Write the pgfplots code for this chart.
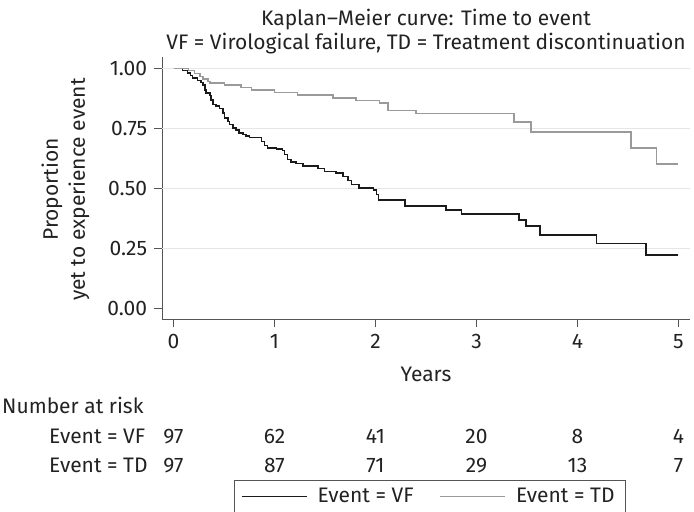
\documentclass[border=0pt]{standalone}
\usepackage{fontspec}
\setmainfont{Fira Sans}
\usepackage{pgfplots}
\pgfplotsset{compat=1.18}
\definecolor{txt}{HTML}{222222}
\definecolor{vfc}{HTML}{1A1A1A}
\definecolor{tdc}{HTML}{9A9A9A}
\definecolor{gridc}{HTML}{E6E6E6}
\definecolor{axc}{HTML}{555555}
\newcommand{\fs}{\fontsize{21bp}{25bp}\selectfont}
\begin{document}
\fs
\begin{tikzpicture}
\begin{axis}[
  at={(0,0)}, anchor=south west,
  scale only axis, width=527.7bp, height=262bp,
  xmin=-0.111, xmax=5.114, ymin=-0.046, ymax=1.046,
  axis lines=left, axis line style={-, draw=axc, line width=1bp},
  xtick={0,1,2,3,4,5}, ytick={0,0.25,0.5,0.75,1},
  yticklabel style={/pgf/number format/.cd, fixed, fixed zerofill, precision=2},
  /pgf/number format/assume math mode=true,
  extra y ticks={0.25,0.5,0.75,1}, extra y tick labels={},
  extra y tick style={ymajorgrids=true, major tick length=0pt},
  grid style={gridc, line width=1bp},
  tick style={axc, line width=1bp}, major tick length=8bp, tick align=outside,
  ticklabel style={font=\fs, text=txt},
  legend columns=2,
  legend style={at={(0.507,-0.676)}, anchor=center, draw=axc, line width=0.8bp, font=\fs, text=txt,
    inner xsep=7bp, inner ysep=1bp, nodes={inner ysep=6bp, inner xsep=4bp},
    /tikz/every even column/.append style={column sep=22bp}},
  legend cell align=left,
  legend image code/.code={\draw[#1, line width=1.5bp] (0bp,0bp) -- (65bp,0bp); \path (0bp,0bp) (71bp,0bp);},
]
\addplot[const plot, vfc, line width=1.5bp] coordinates {
(0,1)(0.09,0.99)(0.14,0.98)(0.17,0.97)(0.19,0.96)(0.24,0.95)(0.27,0.94)(0.29,0.93)(0.31,0.91)(0.32,0.897)(0.36,0.887)(0.37,0.867)(0.39,0.849)(0.42,0.842)(0.455,0.832)(0.49,0.814)(0.505,0.793)(0.54,0.779)(0.555,0.765)(0.59,0.752)(0.62,0.742)(0.65,0.731)(0.69,0.724)(0.72,0.718)(0.75,0.712)(0.87,0.696)(0.90,0.678)(0.93,0.668)(1.02,0.664)(1.08,0.658)(1.10,0.640)(1.13,0.620)(1.165,0.610)(1.215,0.603)(1.28,0.592)(1.43,0.582)(1.495,0.571)(1.61,0.564)(1.68,0.550)(1.73,0.533)(1.76,0.515)(1.835,0.502)(1.98,0.492)(2.01,0.474)(2.03,0.451)(2.29,0.426)(2.70,0.410)(2.85,0.392)(3.42,0.367)(3.49,0.342)(3.63,0.306)(4.19,0.270)(4.68,0.222)(5.0,0.222)};
\addlegendentry{Event = VF}
\addplot[const plot, tdc, line width=1.5bp] coordinates {
(0,1)(0.15,0.99)(0.21,0.979)(0.26,0.965)(0.29,0.955)(0.34,0.945)(0.36,0.938)(0.505,0.930)(0.67,0.920)(0.77,0.910)(1.0,0.900)(1.23,0.889)(1.578,0.877)(1.809,0.865)(2.04,0.856)(2.122,0.825)(2.403,0.811)(3.37,0.777)(3.54,0.735)(4.53,0.667)(4.78,0.602)(4.995,0.602)};
\addlegendentry{Event = TD}
\end{axis}
% title
\node[anchor=base, text=txt] at (263.7bp, 293.3bp) {Kaplan--Meier curve: Time to event};
\node[anchor=base, text=txt] at (263.7bp, 269.3bp) {VF = Virological failure, TD = Treatment discontinuation};
% y label
\node[anchor=base, rotate=90, text=txt] at (-104.3bp, 129.8bp) {Proportion};
\node[anchor=base, rotate=90, text=txt] at (-77.3bp, 129.8bp) {yet to experience event};
% x label
\node[anchor=base, text=txt] at (263.7bp, -61.7bp) {Years};
% risk table
\node[anchor=base west, text=txt, inner sep=0pt] at (-160.3bp, -93.7bp) {Number at risk};
\node[anchor=base west, text=txt, inner sep=0pt] at (-113.3bp, -123.7bp) {Event = VF};
\node[anchor=base west, text=txt, inner sep=0pt] at (-113.3bp, -152.7bp) {Event = TD};
\foreach \v [count=\i from 0] in {97,62,41,20,8,4}
  \node[anchor=base, text=txt, inner sep=0pt] at ({11.2bp+101bp*\i}, -123.7bp) {\v};
\foreach \v [count=\i from 0] in {97,87,71,29,13,7}
  \node[anchor=base, text=txt, inner sep=0pt] at ({11.2bp+101bp*\i}, -152.7bp) {\v};
\pgfresetboundingbox
\useasboundingbox (-162.3bp,-192.7bp) rectangle (531.7bp,319.3bp);
\end{tikzpicture}
\end{document}
